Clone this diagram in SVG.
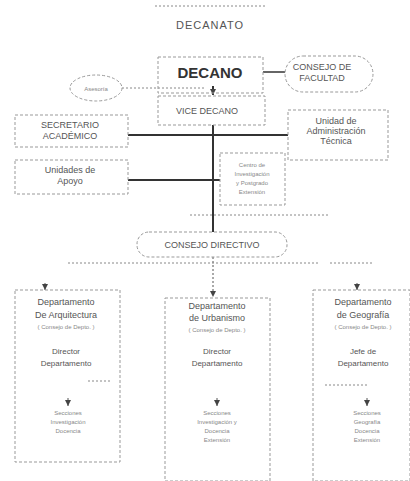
<svg xmlns="http://www.w3.org/2000/svg" width="410" height="481" viewBox="0 0 410 481">
<style>
text{font-family:"Liberation Sans",Arial,sans-serif;fill:#555;text-anchor:middle}
.t{font-size:9px}
.s{font-size:6px;fill:#888}
.b{fill:none;stroke:#999;stroke-width:1;stroke-dasharray:3 2}
.c{fill:none;stroke:#333;stroke-width:2}
.f{fill:none;stroke:#888;stroke-width:1;stroke-dasharray:2 2}
.a{stroke:#555;stroke-width:1}
</style>
<defs>
<marker id="ar" markerWidth="6" markerHeight="6" refX="6" refY="3" orient="auto" markerUnits="userSpaceOnUse"><path d="M0,0 L6,3 L0,6 z" fill="#444"/></marker>
</defs>
<rect width="410" height="481" fill="#fff"/>
<g id="title"><line x1="155" y1="6" x2="265" y2="6" class="f"/><text x="210" y="29" style="font-size:11px;letter-spacing:1px">DECANATO</text></g>
<g id="connectors">
<line x1="213" y1="86" x2="213" y2="95" class="c" marker-end="url(#ar)"/>
<line x1="213" y1="125" x2="213" y2="232" class="c"/>
<line x1="122" y1="88" x2="205" y2="88" class="f"/>
<line x1="263" y1="72" x2="285" y2="72" class="c" style="stroke-width:1.5"/>
<line x1="128" y1="135" x2="288" y2="135" class="c"/>
<line x1="128" y1="180" x2="220" y2="180" class="c"/>
<line x1="213" y1="257" x2="213" y2="297" class="f" style="stroke:#555" marker-end="url(#ar)"/>
<line x1="68" y1="263" x2="320" y2="263" class="f"/>
<line x1="330" y1="263" x2="372" y2="263" class="f"/>
<line x1="190" y1="215" x2="330" y2="215" class="f"/>
<line x1="45" y1="283" x2="45" y2="290" class="a" marker-end="url(#ar)"/>
<line x1="357" y1="283" x2="357" y2="290" class="a" marker-end="url(#ar)"/>
<line x1="68" y1="398" x2="68" y2="406" class="a" marker-end="url(#ar)"/>
<line x1="217" y1="398" x2="217" y2="406" class="a" marker-end="url(#ar)"/>
<line x1="367" y1="398" x2="367" y2="406" class="a" marker-end="url(#ar)"/>
</g>
<g id="decano"><rect x="158" y="57" width="105" height="36" class="b"/><text x="210" y="78" style="font-size:15px;font-weight:bold;fill:#333">DECANO</text></g>
<g id="vicedecano"><rect x="158" y="96" width="107" height="29" class="b"/><text x="207" y="114" class="t">VICE DECANO</text></g>
<g id="consejo-facultad"><rect x="285" y="56" width="88" height="36" rx="18" class="b"/><text x="322" y="70" class="t">CONSEJO DE</text><text x="322" y="81" class="t">FACULTAD</text></g>
<g id="asesoria"><ellipse cx="96" cy="88" rx="26" ry="13" class="b"/><text x="96" y="91" class="s">Asesoría</text></g>
<g id="secretario"><rect x="15" y="115" width="113" height="32" class="b"/><text x="70" y="128" class="t">SECRETARIO</text><text x="70" y="139" class="t">ACADÉMICO</text></g>
<g id="unidad-admin"><rect x="288" y="110" width="100" height="50" class="b"/><text x="336" y="124" class="t">Unidad de</text><text x="336" y="134" class="t">Administración</text><text x="336" y="144" class="t">Técnica</text></g>
<g id="unidades-apoyo"><rect x="15" y="160" width="113" height="34" class="b"/><text x="70" y="173" class="t">Unidades de</text><text x="70" y="184" class="t">Apoyo</text></g>
<g id="unidad-centro"><rect x="220" y="153" width="65" height="52" class="b"/><text x="252" y="167" class="s">Centro de</text><text x="252" y="176" class="s">Investigación</text><text x="252" y="185" class="s">y Postgrado</text><text x="252" y="194" class="s">Extensión</text></g>
<g id="consejo-directivo"><rect x="137" y="232" width="150" height="25" rx="12" class="b"/><text x="212" y="248" class="t">CONSEJO DIRECTIVO</text></g>
<g id="dep-arquitectura"><rect x="15" y="290" width="105" height="172" class="b"/><text x="66" y="305" class="t">Departamento</text><text x="66" y="318" class="t">De Arquitectura</text><text x="66" y="329" class="s">( Consejo de Depto. )</text><text x="66" y="354" class="t" style="font-size:8px">Director</text><text x="66" y="366" class="t" style="font-size:8px">Departamento</text><line x1="88" y1="381" x2="112" y2="381" class="f"/><text x="68" y="415" class="s">Secciones</text><text x="68" y="424" class="s">Investigación</text><text x="68" y="433" class="s">Docencia</text></g>
<g id="dep-urbanismo"><rect x="165" y="298" width="105" height="183" class="b"/><text x="217" y="309" class="t">Departamento</text><text x="217" y="321" class="t">de Urbanismo</text><text x="217" y="332" class="s">( Consejo de Depto. )</text><text x="217" y="354" class="t" style="font-size:8px">Director</text><text x="217" y="366" class="t" style="font-size:8px">Departamento</text><text x="217" y="415" class="s">Secciones</text><text x="217" y="424" class="s">Investigación y</text><text x="217" y="433" class="s">Docencia</text><text x="217" y="442" class="s">Extensión</text></g>
<g id="dep-geografia"><rect x="313" y="290" width="97" height="191" class="b"/><text x="363" y="305" class="t">Departamento</text><text x="363" y="318" class="t">de Geografía</text><text x="363" y="329" class="s">( Consejo de Depto. )</text><text x="363" y="354" class="t" style="font-size:8px">Jefe de</text><text x="363" y="366" class="t" style="font-size:8px">Departamento</text><line x1="325" y1="385" x2="368" y2="385" class="f"/><text x="367" y="415" class="s">Secciones</text><text x="367" y="424" class="s">Geografía</text><text x="367" y="433" class="s">Docencia</text><text x="367" y="442" class="s">Extensión</text></g>
</svg>
